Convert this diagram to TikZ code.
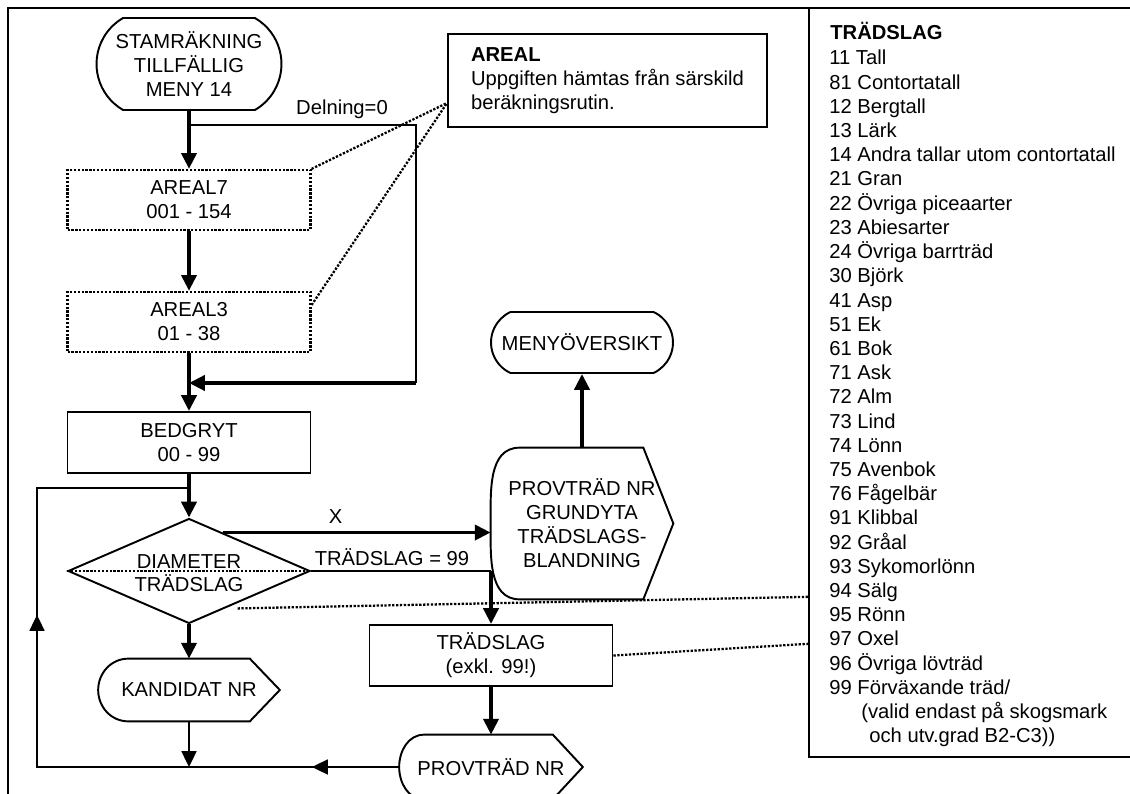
\documentclass[tikz,border=0pt]{standalone}
\usepackage{fontspec}
\setmainfont{Liberation Sans}
\usetikzlibrary{arrows.meta,shapes.geometric,shapes.misc,calc}

\begin{document}
\begin{tikzpicture}[x=0.02cm, y=-0.02cm,
  every node/.style={font=\fontsize{11.5}{13.7}\selectfont, inner sep=0pt},
  flowbox/.style={draw, line width=1.1pt, minimum width=4.86cm, minimum height=1.2cm, align=center},
  dotbox/.style={flowbox, line width=1.3pt, dash pattern=on 1.3pt off 0.9pt},
  term/.style={draw, line width=1.1pt, rounded rectangle, rounded rectangle arc length=120, align=center},
  dispnode/.style={align=center},
  thickflow/.style={line width=2.2pt, -{Triangle[width=8.5pt,length=9pt]}},
  thinflow/.style={line width=1.1pt, -{Triangle[width=8.5pt,length=9pt]}},
  thinline/.style={line width=1.1pt},
  shapeline/.style={line width=1.1pt, line join=miter},
  note/.style={line width=1.3pt, dash pattern=on 1.3pt off 0.9pt},
  listtxt/.style={anchor=base west}
]
  \useasboundingbox (0,0) rectangle (1130,794);

  % Frame and species list
  \draw[line width=1.5pt] (8,800) -- (8,8) -- (1140,8);
  \node[draw, line width=1.4pt, minimum width=6.52cm, minimum height=14.98cm] (tbox) at (972,382.5) {};
  \node[listtxt] (thead) at (830,40) {\bfseries TRÄDSLAG};
  \foreach \sp [count=\i from 0] in {11 Tall, 81 Contortatall, 12 Bergtall, 13 Lärk,
      14 Andra tallar utom contortatall, 21 Gran, 22 Övriga piceaarter, 23 Abiesarter,
      24 Övriga barrträd, 30 Björk, 41 Asp, 51 Ek, 61 Bok, 71 Ask, 72 Alm, 73 Lind,
      74 Lönn, 75 Avenbok, 76 Fågelbär, 91 Klibbal, 92 Gråal, 93 Sykomorlönn,
      94 Sälg, 95 Rönn, 97 Oxel, 96 Övriga lövträd, 99 Förväxande träd/}
    \node[listtxt] (sp\i) at (829, 65+24.2*\i) {\sp};
  \node[listtxt] (sp27) at (861, 65+24.2*27) {(valid endast på skogsmark};
  \node[listtxt] (sp28) at (869, 65+24.2*28) {och utv.grad B2-C3))};

  % Main column
  \node[term, minimum width=3.7cm, minimum height=1.84cm] (start) at (189,64) {STAMRÄKNING\\TILLFÄLLIG\\MENY 14};
  \node[dotbox] (areal7) at (189,200) {AREAL7\\001 - 154};
  \node[dotbox] (areal3) at (189,322) {AREAL3\\01 - 38};
  \node[flowbox, minimum height=1.22cm] (bedgryt) at (189,442.5) {BEDGRYT\\00 - 99};
  \node[draw, diamond, line width=1.1pt, minimum width=4.84cm, minimum height=2.1cm] (diam) at (189,571) {};
  \node[align=center, font=\fontsize{11.5}{12.8}\selectfont] (diamtxt) at (189,573) {DIAMETER\\TRÄDSLAG};
  \node[dispnode, minimum width=3.62cm, minimum height=1.24cm] (kand) at (189,690) {KANDIDAT NR};
  \draw[shapeline] ([xshift=0.6cm]kand.north west) -- ([xshift=-0.6cm]kand.north east) -- (kand.east)
    -- ([xshift=-0.6cm]kand.south east) -- ([xshift=0.6cm]kand.south west)
    to[out=180,in=-90] (kand.west) to[out=90,in=180] ([xshift=0.6cm]kand.north west) -- cycle;

  % Right column
  \node[flowbox, minimum height=1.22cm] (tslag) at (491,655.5) {TRÄDSLAG\\(exkl. 99!)};
  \node[dispnode, minimum width=3.66cm, minimum height=1.28cm] (pnr) at (491,767) {PROVTRÄD NR};
  \draw[shapeline] ([xshift=0.5cm]pnr.north west) -- ([xshift=-0.6cm]pnr.north east) -- (pnr.east)
    -- ([xshift=-0.6cm]pnr.south east) -- ([xshift=0.5cm]pnr.south west)
    to[out=180,in=-90] (pnr.west) to[out=90,in=180] ([xshift=0.5cm]pnr.north west) -- cycle;
  \node[dispnode, minimum width=3.64cm, minimum height=3.02cm] (pgrund) at (582,523.5) {PROVTRÄD NR\\GRUNDYTA\\TRÄDSLAGS-\\BLANDNING};
  \draw[shapeline] ([xshift=0.58cm]pgrund.north west) -- ([xshift=-0.6cm]pgrund.north east) -- (pgrund.east)
    -- ([xshift=-0.6cm]pgrund.south east) -- ([xshift=0.58cm]pgrund.south west)
    to[out=180,in=-90] (pgrund.west) to[out=90,in=180] ([xshift=0.58cm]pgrund.north west) -- cycle;
  \node[term, rounded rectangle arc length=130, minimum width=3.64cm, minimum height=1.22cm] (meny) at (582,342.5) {MENYÖVERSIKT};
  \node[draw, line width=1.1pt, minimum width=6.38cm, minimum height=1.86cm, align=left] (arealnote) at (607.5,80.5) {\textbf{AREAL}\\Uppgiften hämtas från särskild\\beräkningsrutin.};

  % Flow
  \coordinate (dsplit) at (189,125);
  \coordinate (dcorner) at (416,125);
  \coordinate (dlow) at (416,383);
  \coordinate (djoin) at (189,383);
  \draw[thickflow] (start.south) -- (areal7.north);
  \draw[thinline] (dsplit) -- (dcorner) -- (dlow);
  \draw[thickflow] (dlow) -- (djoin);
  \node (delning) at (342,109) {Delning=0};
  \draw[thickflow] (areal7.south) -- (areal3.north);
  \draw[thickflow] (areal3.south) -- (bedgryt.north);
  \draw[thickflow] (bedgryt.south) -- (diam.north);

  \coordinate (xstart) at ($(diam.north)!0.28!(diam.east)$);
  \draw[thickflow] (xstart) -- (xstart -| pgrund.west) node[pos=0.42, above=4pt] (xlbl) {X};
  \draw[thickflow] (pgrund.north) -- (meny.south);

  \coordinate (t99) at (tslag.north |- diam.east);
  \draw[thinline] (diam.east) -- (t99) node[pos=0.45, above=2.5pt] (t99lbl) {TRÄDSLAG = 99};
  \draw[thickflow] (t99) -- (tslag.north);
  \draw[thickflow] (diam.south) -- (kand.north);
  \draw[thickflow] (tslag.south) -- (pnr.north);

  % Return loop
  \coordinate (ljoin) at (189,488);
  \coordinate (ltop) at (37,488);
  \coordinate (lup) at (37,615);
  \coordinate (lbot) at (37,767);
  \coordinate (bjoin) at (189,767);
  \coordinate (bleft) at (312,767);
  \draw[thinline] (pnr.west) -- (lbot) -- (ltop) -- (ljoin);
  \draw[thinflow] (pnr.west) -- (bleft);
  \draw[thinflow] (lbot) -- (lup);
  \draw[thinflow] (kand.south) -- (bjoin);

  % Dotted references
  \draw[note] (areal7.north east) -- ($(arealnote.south west)+(0,-25)$);
  \draw[note] ($(areal3.east)+(0,-17)$) -- ($(arealnote.south west)+(0,-25)$);
  \draw[note] (diam.west) -- (diam.east);
  \draw[note] ($(diam.south)!0.3!(diam.east)+(12,0)$) -- ($(tbox.north west)+(0,590)$);
  \draw[note] (tslag.east) -- ($(tbox.north west)+(0,637)$);
\end{tikzpicture}
\end{document}
